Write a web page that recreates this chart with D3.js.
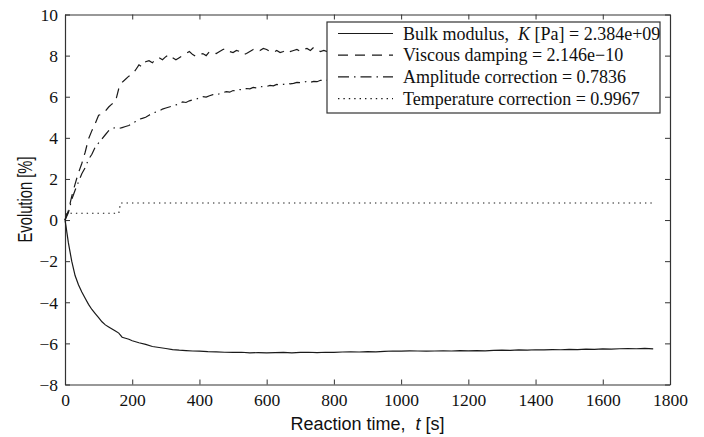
<!DOCTYPE html>
<html>
<head>
<meta charset="utf-8">
<script src="https://cdn.jsdelivr.net/npm/d3@7/dist/d3.min.js"></script>
<style>
  body { margin: 0; background: #fff; }
  svg { display: block; }
</style>
</head>
<body>
<div id="chart"></div>
<script>
// Evolution of the fitted parameters vs reaction time

var xTicks = [0, 200, 400, 600, 800, 1000, 1200, 1400, 1600, 1800];
var yTicks = [-8, -6, -4, -2, 0, 2, 4, 6, 8, 10];

var legendLabels = [
    ["Bulk modulus,  ", "K", " [Pa] = 2.384e+09"],
    ["Viscous damping = 2.146e\u221210"],
    ["Amplitude correction = 0.7836"],
    ["Temperature correction = 0.9967"]
];

// bulk modulus (solid)
var bulkTime = [0, 3, 6, 10, 15, 20, 30, 40, 50, 60, 70, 80, 90, 100, 110, 120, 130, 140, 150, 160,
    170, 180, 190, 200, 220, 240, 260, 280, 300, 320, 340, 360, 380, 400,
    425, 450, 475, 500, 525, 550, 575, 600, 625, 650, 675, 700, 725, 750, 775, 800,
    825, 850, 875, 900, 925, 950, 975, 1000, 1025, 1050, 1075, 1100, 1125, 1150, 1175, 1200,
    1225, 1250, 1275, 1300, 1325, 1350, 1375, 1400, 1425, 1450, 1475, 1500, 1525, 1550, 1575, 1600,
    1625, 1650, 1675, 1700, 1725, 1750];
var bulkValues = [0, -0.3, -0.65, -1.1, -1.55, -2.0, -2.7, -3.15, -3.5, -3.8, -4.1, -4.35, -4.55, -4.75, -4.95, -5.1, -5.2, -5.3, -5.4, -5.5,
    -5.7, -5.75, -5.8, -5.87, -5.97, -6.05, -6.15, -6.2, -6.25, -6.3, -6.33, -6.35, -6.37, -6.38,
    -6.4, -6.41, -6.43, -6.44, -6.43, -6.46, -6.45, -6.46, -6.45, -6.44, -6.46, -6.44, -6.43, -6.45, -6.43, -6.44,
    -6.42, -6.41, -6.42, -6.4, -6.41, -6.39, -6.37, -6.38, -6.36, -6.37, -6.38, -6.37, -6.36, -6.37, -6.35, -6.36,
    -6.35, -6.36, -6.34, -6.33, -6.34, -6.32, -6.33, -6.31, -6.32, -6.3, -6.31, -6.29, -6.3, -6.28, -6.29, -6.27,
    -6.28, -6.26, -6.25, -6.26, -6.24, -6.27];

// viscous damping (dashed) and amplitude correction (dash-dot) share a time grid
var fitTime = [0, 10, 20, 30, 40, 50, 60, 70, 80, 90, 100, 110, 120, 130, 140, 150, 160, 170, 180, 190,
    200, 210, 220, 230, 240, 250, 260, 270, 280, 290, 300, 310, 320, 330, 340, 350, 360, 370, 380, 390,
    400, 410, 420, 430, 440, 450, 460, 470, 480, 490, 500, 510, 520, 530, 540, 550, 560, 570, 580, 590,
    600, 610, 620, 630, 640, 650, 660, 670, 680, 690, 700, 710, 720, 730, 740, 750, 760, 770, 780,
    800, 850, 900, 950, 1000, 1050, 1100, 1150, 1200, 1250, 1300, 1350, 1400, 1450, 1500, 1550, 1600, 1650, 1700, 1750];
var viscousValues = [0, 0.45, 1.15, 1.75, 2.3, 2.75, 3.3, 3.95, 4.35, 4.7, 5.1, 5.15, 5.3, 5.5, 5.65, 5.75, 6.4, 6.7, 6.85, 7.0,
    7.1, 7.3, 7.55, 7.45, 7.7, 7.75, 7.65, 7.85, 7.9, 7.8, 7.95, 8.05, 7.9, 7.8, 7.9, 8.0, 8.1, 8.2, 8.05, 7.95,
    8.05, 8.1, 8.0, 8.2, 8.15, 8.1, 8.2, 8.3, 8.35, 8.2, 8.15, 8.25, 8.2, 8.05, 8.1, 8.2, 8.3, 8.35, 8.25, 8.35,
    8.3, 8.2, 8.15, 8.25, 8.15, 8.2, 8.3, 8.2, 8.25, 8.3, 8.2, 8.3, 8.35, 8.25, 8.4, 8.3, 8.2, 8.25, 8.2,
    8.3, 8.25, 8.35, 8.3, 8.4, 8.3, 8.35, 8.4, 8.3, 8.35, 8.4, 8.35, 8.3, 8.4, 8.35, 8.4, 8.3, 8.35, 8.4, 8.35];
var amplitudeValues = [0, 0.35, 1.0, 1.45, 1.85, 2.25, 2.55, 2.95, 3.2, 3.55, 3.75, 3.95, 4.15, 4.35, 4.45, 4.5, 4.45, 4.5, 4.55, 4.6,
    4.7, 4.8, 4.9, 4.95, 5.0, 5.1, 5.2, 5.25, 5.3, 5.4, 5.45, 5.5, 5.55, 5.6, 5.65, 5.75, 5.72, 5.8, 5.85, 5.88,
    5.95, 6.0, 5.98, 6.05, 6.1, 6.08, 6.15, 6.2, 6.25, 6.22, 6.3, 6.28, 6.35, 6.33, 6.4, 6.38, 6.45, 6.43, 6.5, 6.48,
    6.5, 6.55, 6.53, 6.6, 6.58, 6.6, 6.65, 6.63, 6.65, 6.7, 6.68, 6.7, 6.75, 6.7, 6.75, 6.73, 6.8, 6.78, 6.8,
    6.85, 6.9, 6.95, 7.0, 7.0, 7.05, 7.1, 7.1, 7.15, 7.15, 7.2, 7.2, 7.25, 7.25, 7.25, 7.3, 7.3, 7.3, 7.35, 7.35];

// temperature correction (dotted)
var tempTime = [0, 5, 160, 165, 1750];
var tempValues = [0, 0.33, 0.33, 0.83, 0.83];

var W = 704, H = 437;
var margin = { top: 14.5, bottom: 52.5, left: 65, right: 34 };
var width = W - margin.left - margin.right;
var height = H - margin.top - margin.bottom;

var svg = d3.select('#chart')
    .append('svg')
    .attr('width', W)
    .attr('height', H)
    .append('g')
    .attr('transform', 'translate(' + margin.left + ',' + margin.top + ')');

var x_scale = d3.scaleLinear().domain([0, 1800]).range([0, width]);
var y_scale = d3.scaleLinear().domain([-8, 10]).range([height, 0]);

var serif = '"Liberation Serif", "Times New Roman", serif';
var sans = '"Liberation Sans", Arial, Helvetica, sans-serif';
var axisColour = '#333';
var ink = '#1a1a1a';

function styleAxis(g) {
    g.select('.domain').attr('stroke', axisColour).attr('stroke-width', 1.2);
    g.selectAll('.tick line').attr('stroke', axisColour).attr('stroke-width', 1);
    g.selectAll('.tick text')
        .attr('fill', '#111')
        .style('font-family', serif)
        .style('font-size', '17.5px');
}

// bottom axis
svg.append('g')
    .attr('transform', 'translate(0,' + height + ')')
    .call(d3.axisBottom(x_scale).tickValues(xTicks).tickSizeInner(-5).tickSizeOuter(0).tickFormat(d3.format('d')))
    .call(styleAxis)
    .selectAll('.tick text')
    .attr('y', 21.5)
    .attr('dy', 0);

// left axis
svg.append('g')
    .call(d3.axisLeft(y_scale).tickValues(yTicks).tickSizeInner(-5).tickSizeOuter(0)
        .tickFormat(function(d) { return d < 0 ? '\u2212' + Math.abs(d) : d; }))
    .call(styleAxis)
    .selectAll('.tick text')
    .attr('x', -7)
    .attr('dy', '0.33em');

// top and right box sides, ticks only
svg.append('g')
    .call(d3.axisTop(x_scale).tickValues(xTicks).tickSizeInner(-5).tickSizeOuter(0).tickFormat(''))
    .call(styleAxis);

svg.append('g')
    .attr('transform', 'translate(' + width + ',0)')
    .call(d3.axisRight(y_scale).tickValues(yTicks).tickSizeInner(-5).tickSizeOuter(0).tickFormat(''))
    .call(styleAxis);

// series
var series = [
    { name: 'bulk', time: bulkTime, values: bulkValues, dash: null },
    { name: 'viscous', time: fitTime, values: viscousValues, dash: '10,7' },
    { name: 'amplitude', time: fitTime, values: amplitudeValues, dash: '11,5,1.5,5' },
    { name: 'temperature', time: tempTime, values: tempValues, dash: '1.4,4' }
];

var line = d3.line()
    .x(function(d) { return x_scale(d[0]); })
    .y(function(d) { return y_scale(d[1]); });

svg.selectAll('.series')
    .data(series)
    .enter()
    .append('path')
    .attr('class', 'series')
    .attr('fill', 'none')
    .attr('stroke', ink)
    .attr('stroke-width', 1.2)
    .attr('stroke-dasharray', function(d) { return d.dash; })
    .attr('d', function(d) {
        return line(d.time.map(function(t, i) { return [t, d.values[i]]; }));
    });

// legend
var legend = svg.append('g')
    .attr('transform', 'translate(' + (327 - margin.left) + ',' + (22 - margin.top) + ')');

legend.append('rect')
    .attr('width', 333)
    .attr('height', 91)
    .attr('fill', '#fff')
    .attr('stroke', axisColour)
    .attr('stroke-width', 1.2);

var rows = legend.selectAll('.row')
    .data(series)
    .enter()
    .append('g')
    .attr('class', 'row')
    .attr('transform', function(d, i) { return 'translate(0,' + (17.5 + i * 21.7) + ')'; });

rows.append('line')
    .attr('x1', 11)
    .attr('x2', 66)
    .attr('y1', -6)
    .attr('y2', -6)
    .attr('stroke', ink)
    .attr('stroke-width', 1.2)
    .attr('stroke-dasharray', function(d) { return d.dash; });

rows.append('text')
    .attr('x', 76)
    .attr('fill', '#111')
    .style('font-family', serif)
    .style('font-size', '18px')
    .style('white-space', 'pre')
    .each(function(d, i) {
        var t = d3.select(this);
        legendLabels[i].forEach(function(part, j) {
            t.append('tspan')
                .style('font-style', j === 1 ? 'italic' : 'normal')
                .text(part);
        });
    });

// axis titles
var xText = svg.append('text')
    .attr('x', width / 2)
    .attr('y', 430 - margin.top)
    .attr('text-anchor', 'middle')
    .attr('fill', '#111')
    .style('font-family', sans)
    .style('font-size', '18px')
    .style('white-space', 'pre');
xText.append('tspan').text('Reaction time,  ');
xText.append('tspan').style('font-style', 'italic').text('t');
xText.append('tspan').text(' [s]');

svg.append('text')
    .attr('transform', 'translate(' + (32 - margin.left) + ',' + (height / 2) + ') rotate(-90)')
    .attr('text-anchor', 'middle')
    .attr('fill', '#111')
    .attr('textLength', 86)
    .attr('lengthAdjust', 'spacingAndGlyphs')
    .style('font-family', sans)
    .style('font-size', '20px')
    .text('Evolution [%]');
</script>
</body>
</html>
